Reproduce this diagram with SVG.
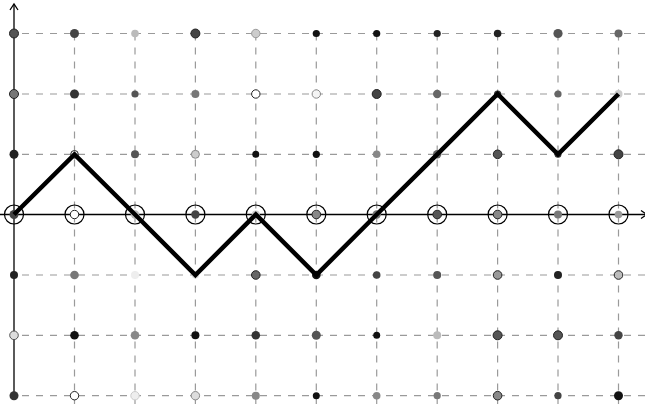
<svg xmlns="http://www.w3.org/2000/svg" width="645" height="404" viewBox="0 0 645 404">
<defs>
<style>
.grid{stroke:#9a9a9a;stroke-width:1.2;stroke-dasharray:7,7;fill:none}
.axis{stroke:#000;stroke-width:1.3;fill:none}
.ring{fill:none;stroke:#000;stroke-width:1.2}
.d{stroke:none}
.o{stroke:#222;stroke-width:1}
.path{fill:none;stroke:#000;stroke-width:4.5;stroke-linejoin:miter;stroke-linecap:butt}
</style>
</defs>
<rect width="645" height="404" fill="#fff"/>
<g id="grid">
<path class="grid" d="M22,33.5H645M22,94H645M22,154.3H645M22,275H645M22,335.3H645M22,395.7H645"/>
<path class="grid" d="M74.5,33.5V404M135,33.5V404M195.4,33.5V404M255.8,33.5V404M316.3,33.5V404M376.7,33.5V404M437.2,33.5V404M497.6,33.5V404M558,33.5V404M618.5,33.5V404"/>
</g>
<g id="axes">
<path class="axis" d="M14,4V396"/>
<path class="axis" d="M10,10L14,4L18,10"/>
<path class="axis" d="M0,214.5H645"/>
<path class="axis" d="M641,210.5L647,214.5L641,218.5"/>
</g>
<g id="row0">
<circle cx="14" cy="33.5" r="4.5" fill="#555" class="o"/>
<circle cx="74.5" cy="33.5" r="4.5" fill="#444" class="d"/>
<circle cx="135" cy="33.5" r="3.8" fill="#bbb" class="d"/>
<circle cx="195.4" cy="33.5" r="4.5" fill="#444" class="o"/>
<circle cx="255.8" cy="33.5" r="4.2" fill="#ccc" class="o" style="stroke:#999"/>
<circle cx="316.3" cy="33.5" r="3.6" fill="#111" class="d"/>
<circle cx="376.7" cy="33.5" r="3.6" fill="#111" class="d"/>
<circle cx="437.2" cy="33.5" r="3.6" fill="#222" class="d"/>
<circle cx="497.6" cy="33.5" r="3.8" fill="#222" class="d"/>
<circle cx="558" cy="33.5" r="4.6" fill="#555" class="d"/>
<circle cx="618.5" cy="33.5" r="4" fill="#666" class="d"/>
</g>
<g id="row1">
<circle cx="14" cy="94" r="4.5" fill="#777" class="o"/>
<circle cx="74.5" cy="94" r="4.5" fill="#333" class="d"/>
<circle cx="135" cy="94" r="3.6" fill="#555" class="d"/>
<circle cx="195.4" cy="94" r="4" fill="#777" class="d"/>
<circle cx="255.8" cy="94" r="4.2" fill="#fff" class="o"/>
<circle cx="316.3" cy="94" r="4.2" fill="#f4f4f4" class="o" style="stroke:#888"/>
<circle cx="376.7" cy="94" r="4.5" fill="#444" class="o"/>
<circle cx="437.2" cy="94" r="4.2" fill="#666" class="d"/>
<circle cx="497.6" cy="94" r="3.6" fill="#333" class="d"/>
<circle cx="558" cy="94" r="3.6" fill="#666" class="d"/>
<circle cx="618.5" cy="94" r="4" fill="#ccc" class="d"/>
</g>
<g id="row2">
<circle cx="14" cy="154.3" r="4.5" fill="#222" class="d"/>
<circle cx="74.5" cy="154.3" r="3.8" fill="#fff" class="o"/>
<circle cx="135" cy="154.3" r="4" fill="#555" class="d"/>
<circle cx="195.4" cy="154.3" r="4" fill="#ccc" class="o" style="stroke:#888"/>
<circle cx="255.8" cy="154.3" r="3.5" fill="#111" class="d"/>
<circle cx="316.3" cy="154.3" r="3.6" fill="#111" class="d"/>
<circle cx="376.7" cy="154.3" r="3.8" fill="#888" class="d"/>
<circle cx="437.2" cy="154.3" r="4.2" fill="#666" class="d"/>
<circle cx="497.6" cy="154.3" r="4.3" fill="#555" class="o"/>
<circle cx="558" cy="154.3" r="3.5" fill="#333" class="d"/>
<circle cx="618.5" cy="154.3" r="4.5" fill="#444" class="o"/>
</g>
<g id="row3">
<circle class="ring" cx="14" cy="214.5" r="9.5"/>
<circle cx="14" cy="214.5" r="4.5" fill="#444" class="d"/>
<circle class="ring" cx="74.5" cy="214.5" r="9.5"/>
<circle cx="74.5" cy="214.5" r="4.2" fill="#fff" class="o"/>
<circle class="ring" cx="135" cy="214.5" r="9.5"/>
<circle cx="135" cy="214.5" r="4.2" fill="#bbb" class="d"/>
<circle class="ring" cx="195.4" cy="214.5" r="9.5"/>
<circle cx="195.4" cy="214.5" r="4.2" fill="#444" class="d"/>
<circle class="ring" cx="255.8" cy="214.5" r="9.5"/>
<circle cx="255.8" cy="214.5" r="4" fill="#ccc" class="d"/>
<circle class="ring" cx="316.3" cy="214.5" r="9.5"/>
<circle cx="316.3" cy="214.5" r="4.3" fill="#888" class="o"/>
<circle class="ring" cx="376.7" cy="214.5" r="9.5"/>
<circle cx="376.7" cy="214.5" r="4.2" fill="#777" class="d"/>
<circle class="ring" cx="437.2" cy="214.5" r="9.5"/>
<circle cx="437.2" cy="214.5" r="4.3" fill="#555" class="o"/>
<circle class="ring" cx="497.6" cy="214.5" r="9.5"/>
<circle cx="497.6" cy="214.5" r="4.3" fill="#888" class="o"/>
<circle class="ring" cx="558" cy="214.5" r="9.5"/>
<circle cx="558" cy="214.5" r="4" fill="#777" class="d"/>
<circle class="ring" cx="618.5" cy="214.5" r="9.5"/>
<circle cx="618.5" cy="214.5" r="3.8" fill="#999" class="d"/>
</g>
<g id="row4">
<circle cx="14" cy="275" r="4" fill="#222" class="d"/>
<circle cx="74.5" cy="275" r="4.3" fill="#777" class="d"/>
<circle cx="135" cy="275" r="4" fill="#eee" class="d"/>
<circle cx="195.4" cy="275" r="3.6" fill="#ddd" class="d"/>
<circle cx="255.8" cy="275" r="4.3" fill="#666" class="o"/>
<circle cx="316.3" cy="275" r="4.3" fill="#111" class="d"/>
<circle cx="376.7" cy="275" r="3.8" fill="#444" class="d"/>
<circle cx="437.2" cy="275" r="4" fill="#555" class="d"/>
<circle cx="497.6" cy="275" r="4.3" fill="#999" class="o"/>
<circle cx="558" cy="275" r="4" fill="#222" class="d"/>
<circle cx="618.5" cy="275" r="4.3" fill="#bbb" class="o"/>
</g>
<g id="row5">
<circle cx="14" cy="335.3" r="4.3" fill="#ddd" class="o" style="stroke:#555"/>
<circle cx="74.5" cy="335.3" r="4.3" fill="#111" class="d"/>
<circle cx="135" cy="335.3" r="4.3" fill="#888" class="d"/>
<circle cx="195.4" cy="335.3" r="4" fill="#111" class="d"/>
<circle cx="255.8" cy="335.3" r="4.3" fill="#333" class="d"/>
<circle cx="316.3" cy="335.3" r="4.5" fill="#555" class="d"/>
<circle cx="376.7" cy="335.3" r="3.5" fill="#111" class="d"/>
<circle cx="437.2" cy="335.3" r="4" fill="#bbb" class="d"/>
<circle cx="497.6" cy="335.3" r="4.5" fill="#555" class="o"/>
<circle cx="558" cy="335.3" r="4.5" fill="#555" class="o"/>
<circle cx="618.5" cy="335.3" r="4.2" fill="#444" class="d"/>
</g>
<g id="row6">
<circle cx="14" cy="395.7" r="4.5" fill="#333" class="d"/>
<circle cx="74.5" cy="395.7" r="4.2" fill="#fff" class="o"/>
<circle cx="135" cy="395.7" r="4.2" fill="#eee" class="o" style="stroke:#ccc"/>
<circle cx="195.4" cy="395.7" r="4.2" fill="#ddd" class="o" style="stroke:#888"/>
<circle cx="255.8" cy="395.7" r="4" fill="#888" class="d"/>
<circle cx="316.3" cy="395.7" r="3.5" fill="#111" class="d"/>
<circle cx="376.7" cy="395.7" r="3.8" fill="#888" class="d"/>
<circle cx="437.2" cy="395.7" r="3.6" fill="#777" class="d"/>
<circle cx="497.6" cy="395.7" r="4.3" fill="#888" class="o"/>
<circle cx="558" cy="395.7" r="3.6" fill="#444" class="d"/>
<circle cx="618.5" cy="395.7" r="4.5" fill="#111" class="d"/>
</g>
<g id="connectors">
<polyline class="path" points="14,214.5 74.5,154.3 135,214.5 195.4,275 255.8,214.5 316.3,275 376.7,214.5 437.2,154.3 497.6,94 558,154.3 618.5,94"/>
</g>
</svg>
